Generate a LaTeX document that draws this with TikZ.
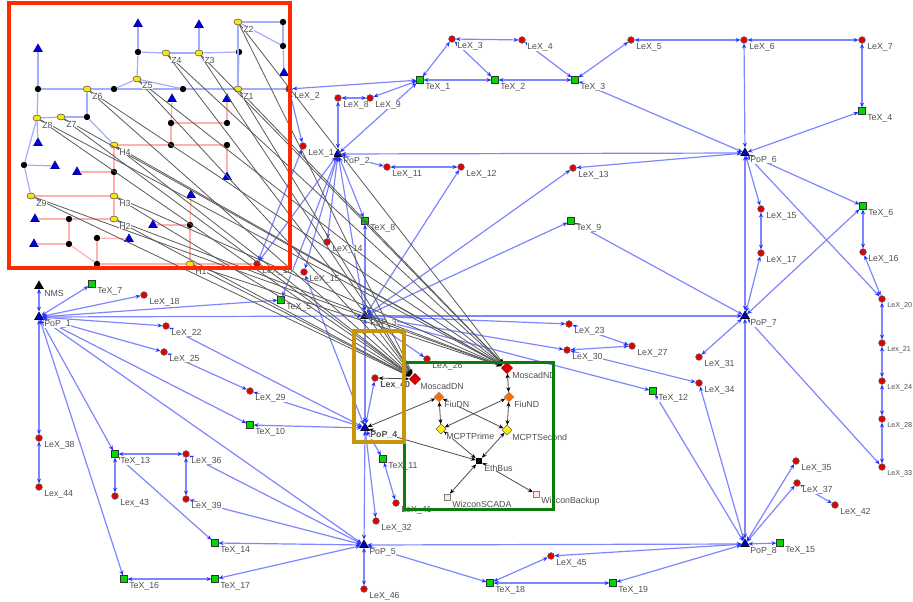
\documentclass[tikz,border=0pt]{standalone}
\usepackage{fontspec}
\setmainfont{Liberation Sans}
\usepackage{xcolor}
\usepackage{tikz}
\usetikzlibrary{
  arrows.meta,
  calc,
  shapes.geometric
}
\definecolor{linkblue}{HTML}{7E86FF}
\definecolor{tipblue}{HTML}{1E32FF}
\definecolor{fieldblue}{HTML}{A4ACFF}
\definecolor{fieldpink}{HTML}{FFB0B0}
\definecolor{tagtext}{HTML}{505050}
\definecolor{redframe}{HTML}{FF2A00}
\definecolor{greenframe}{HTML}{0B7D0B}
\definecolor{goldframe}{HTML}{C8960C}
\newcommand{\edgetag}[1]{{\fontsize{5.4}{7}\selectfont #1}}
\newcommand{\nodelist}{
  pop1/39/317/popnode/PoP\_1, pop2/338/154/popnode/PoP\_2, pop3/365/316/popnode/PoP\_3,
  pop4/365/428/popnode/\textbf{PoP\_4}, pop5/364/545/popnode/PoP\_5, pop6/745/153/popnode/PoP\_6,
  pop7/745/316/popnode/PoP\_7, pop8/745/544/popnode/PoP\_8, nms/39/286/nmsnode/NMS,
  lex1/303/146/lexnode/LeX\_1, lex2/289/89/lexnode/LeX\_2, lex3/452/39/lexnode/LeX\_3,
  lex4/522/40/lexnode/LeX\_4, lex5/631/40/lexnode/LeX\_5, lex6/744/40/lexnode/LeX\_6,
  lex7/862/40/lexnode/LeX\_7, lex8/338/98/lexnode/LeX\_8, lex9/370/98/lexnode/LeX\_9,
  lex10/257/264/lexnode/LeX\_10, lex11/387/167/lexnode/LeX\_11, lex12/461/167/lexnode/LeX\_12,
  lex13/573/168/lexnode/LeX\_13, lex14/327/242/lexnode/LeX\_14, lex15/304/272/lexnode/LeX\_15,
  lex15b/761/209/lexnode/LeX\_15, lex16/863/252/lexnode/LeX\_16, lex17/761/253/lexnode/LeX\_17,
  lex18/144/295/lexnode/LeX\_18, lex20/882/299/lexnode/\edgetag{LeX\_20}, lex21/882/343/lexnode/\edgetag{Lex\_21},
  lex22/166/326/lexnode/LeX\_22, lex23/569/324/lexnode/LeX\_23, lex24/882/381/lexnode/\edgetag{LeX\_24},
  lex25/164/352/lexnode/LeX\_25, lex26/427/359/lexnode/LeX\_26, lex27/632/346/lexnode/LeX\_27,
  lex28/882/419/lexnode/\edgetag{LeX\_28}, lex29/250/391/lexnode/LeX\_29, lex30/567/350/lexnode/LeX\_30,
  lex31/699/357/lexnode/LeX\_31, lex32/376/521/lexnode/LeX\_32, lex33/882/467/lexnode/\edgetag{LeX\_33},
  lex34/699/383/lexnode/LeX\_34, lex35/796/461/lexnode/LeX\_35, lex36/186/454/lexnode/LeX\_36,
  lex37/797/483/lexnode/LeX\_37, lex38/39/438/lexnode/LeX\_38, lex39/186/499/lexnode/LeX\_39,
  lex40/375/378/lexnode/\textbf{Lex\_40}, lex41/396/503/lexnode/LeX\_41, lex42/835/505/lexnode/LeX\_42,
  lex43/115/496/lexnode/Lex\_43, lex44/39/487/lexnode/Lex\_44, lex45/551/556/lexnode/LeX\_45,
  lex46/364/589/lexnode/LeX\_46,
  tex1/420/80/texnode/TeX\_1, tex2/495/80/texnode/TeX\_2, tex3/575/80/texnode/TeX\_3,
  tex4/862/111/texnode/TeX\_4, tex5/281/300/texnode/TeX\_5, tex6/863/206/texnode/TeX\_6,
  tex7/92/284/texnode/TeX\_7, tex8/365/221/texnode/TeX\_8, tex9/571/221/texnode/TeX\_9,
  tex10/250/425/texnode/TeX\_10, tex11/383/459/texnode/TeX\_11, tex12/653/391/texnode/TeX\_12,
  tex13/115/454/texnode/TeX\_13, tex14/215/543/texnode/TeX\_14, tex15/780/543/texnode/TeX\_15,
  tex16/124/579/texnode/TeX\_16, tex17/215/579/texnode/TeX\_17, tex18/490/583/texnode/TeX\_18,
  tex19/613/583/texnode/TeX\_19,
  moscaddn/415/379/reddia/MoscadDN, moscadnd/507/368/reddia/MoscadND, fiudn/439/397/orangedia/FiuDN,
  fiund/509/397/orangedia/FiuND, mcptprime/441/429/yellowdia/MCPTPrime, mcptsecond/507/430/yellowdia/MCPTSecond,
  ethbus/479/461/busnode/EthBus, wizconscada/447/497/hostnode/WizconSCADA, wizconbackup/536/494/hostnode/WizconBackup
}
\newcommand{\yellowlist}{
  z1/238/89/Z1, z2/238/22/Z2, z3/199/53/Z3, z4/166/53/Z4, z5/137/79/Z5, z6/87/89/Z6,
  z7/61/117/Z7, z8/37/118/Z8, z9/31/196/Z9, h1/190/264/H1, h2/114/219/H2, h3/114/196/H3, h4/114/145/H4
}
\tikzset{
  lexnode/.style={circle, draw=black!65, fill=red!90!black, inner sep=0pt, minimum size=5pt},
  texnode/.style={rectangle, draw=black!80, fill=green!85!black, inner sep=0pt, minimum size=5pt},
  popnode/.style={regular polygon, regular polygon sides=3, draw=black, fill=blue!75!black, inner sep=0pt, minimum size=7.5pt},
  nmsnode/.style={regular polygon, regular polygon sides=3, draw=black, fill=black, inner sep=0pt, minimum size=7.5pt},
  reddia/.style={diamond, draw=red!70!black, fill=red!85!black, inner sep=0pt, minimum size=8.5pt},
  orangedia/.style={diamond, draw=black!40, fill=orange!85!red, inner sep=0pt, minimum size=7.5pt},
  yellowdia/.style={diamond, draw=black!60, fill=yellow, inner sep=0pt, minimum size=7.5pt},
  busnode/.style={rectangle, fill=black, inner sep=0pt, minimum size=4.5pt},
  hostnode/.style={rectangle, draw=black!50, fill=red!10, inner sep=0pt, minimum size=4.5pt},
  fieldball/.style={ellipse, draw=black!70, fill=yellow!95!black, inner sep=0pt, minimum width=6pt, minimum height=4.5pt},
  fielddot/.style={circle, fill=black, inner sep=0pt, minimum size=4.8pt},
  fieldtip/.style={regular polygon, regular polygon sides=3, draw=blue!60!black, fill=blue!85!black, inner sep=0pt, minimum size=7.5pt},
  tag/.style={anchor=west, inner sep=0pt, fill=white, text=tagtext, font=\fontsize{6.6}{7.5}\selectfont},
  bluelink/.style={
    draw=linkblue,
    line width=.9pt,
    {Stealth[length=3.6pt,width=3pt,color=tipblue]}-{Stealth[length=3.6pt,width=3pt,color=tipblue]}},
  blacklink/.style={
    draw=black!70,
    line width=.6pt,
    {Stealth[length=3.6pt,width=3pt,color=black]}-{Stealth[length=3.6pt,width=3pt,color=black]}},
  ctrl/.style={
    draw=black!65,
    line width=.6pt,
    -{Stealth[length=3.6pt,width=3pt,color=black]},
    shorten >=1pt},
  bluefield/.style={draw=fieldblue, line width=.9pt},
  pinkfield/.style={draw=fieldpink, line width=.9pt}
}
\begin{document}
\begin{tikzpicture}[x=.75pt, y=-.75pt]
  \clip (0,0) rectangle (913,602);
  \foreach \n/\x/\y/\sty/\lab in \nodelist {
    \node[\sty] (\n) at (\x,\y) {};
  }
  \foreach \n/\x/\y/\lab in \yellowlist {
    \node[fieldball] (\n) at (\x,\y) {};
  }
  \foreach \n/\x/\y in {b1/283/22, b2/283/46, b3/138/52, b4/239/52, b5/38/89, b6/114/89, b7/183/89,
    b8/87/117, b9/171/123, b10/227/123, b11/171/145, b12/227/145, b13/24/165, b14/114/172,
    b15/69/219, b16/190/225, b17/97/238, b18/69/244, b19/97/264} {
    \node[fielddot] (\n) at (\x,\y) {};
  }
  \foreach \n/\x/\y in {t1/138/24, t2/199/25, t3/38/49, t4/284/73, t5/172/99, t6/227/99, t7/38/143,
    t8/55/166, t9/77/172, t10/227/177, t11/191/195, t12/35/219, t13/153/225, t14/129/239, t15/34/244} {
    \node[fieldtip] (\n) at (\x,\y) {};
  }
  \draw [bluefield]
    (z2) edge (b1) (b1) edge (b2) (b2) edge (t4) (z2) edge (b2) (z2) edge (z1)
    (b3) edge (t1) (b3) edge (z4) (z4) edge (z3) (z3) edge (b4) (z3) edge (t2) (b4) edge (z1)
    (b3) edge (z5) (z5) edge (b6) (z5) edge (b7) (b5) edge (t3) (b5) edge (z6) (z6) edge (b6)
    (b6) edge (b7) (b7) edge (z1) (z1) edge (lex2) (z6) edge (b8) (b8) edge (z7) (z7) edge (z8)
    (b5) edge (z8) (z8) edge (t7) (z8) edge (b13) (b13) edge (t8) (b13) edge (z9) (b8) edge (h4);
  \draw [pinkfield]
    (h4) edge (b11) (b11) edge (b12) (b11) edge (b9) (b9) edge (t5) (b9) edge (b10) (b10) edge (t6)
    (b12) edge (t10) (h4) edge (b14) (b14) edge (t9) (b14) edge (h3) (h3) edge (h2) (h3) edge (z9)
    (h2) edge (b15) (b15) edge (t12) (b15) edge (b18) (b18) edge (t15) (b18) edge (b19) (b19) edge (b17)
    (b17) edge (t14) (b19) edge (h1) (h1) edge (b16) (b16) edge (t11) (b16) edge (t13) (h1) edge (lex10);
  \draw [bluelink]
    (pop1) edge (nms) (pop1) edge (tex7) (pop1) edge (lex18) (pop1) edge (tex5) (pop1) edge (pop3)
    (pop1) edge (lex22) (lex22) edge (pop4) (pop1) edge (lex25) (lex25) edge (lex29) (lex29) edge (pop4)
    (pop1) edge (tex10) (tex10) edge (pop4) (pop1) edge (pop5) (pop1) edge (tex13) (pop1) edge (tex16)
    (pop1) edge (lex38) (lex38) edge (lex44) (tex13) edge (lex36) (tex13) edge (lex43) (lex36) edge (lex39)
    (tex13) edge (tex14) (lex36) edge (pop5) (lex39) edge (pop5) (tex14) edge (pop5) (tex16) edge (tex17)
    (tex17) edge (pop5) (pop5) edge (pop4) (pop5) edge (lex46) (pop5) edge (pop8) (pop5) edge (tex18)
    (tex18) edge (tex19) (tex18) edge (lex45) (lex45) edge (pop8) (tex19) edge (pop8)
    (pop4) edge (lex40) (pop4) edge (pop3) (pop4) edge (tex11) (tex11) edge (lex41) (pop4) edge (lex32)
    (pop3) edge (lex26) (pop3) edge (lex23) (lex23) edge (lex27) (pop3) edge (lex30) (lex30) edge (lex27)
    (pop3) edge (tex12) (lex30) edge (lex34) (pop3) edge (pop7) (pop2) edge (pop3) (tex8) edge (pop3)
    (pop2) edge (tex8) (pop2) edge (lex14) (pop2) edge (lex15) (lex15) edge (pop4) (pop2) edge (tex5)
    (pop2) edge (lex10) (lex1) edge (lex10) (lex2) edge (lex1) (lex12) edge (pop3) (lex13) edge (pop3)
    (tex9) edge (pop3) (lex13) edge (pop6) (tex9) edge (pop7) (tex3) edge (pop6) (tex3) edge (lex4)
    (tex3) edge (lex5) (tex2) edge (lex3) (tex1) edge (lex3) (lex3) edge (lex4) (tex1) edge (tex2)
    (tex2) edge (tex3) (tex1) edge (lex2) (tex1) edge (lex9) (lex8) edge (lex9) (lex8) edge (pop2)
    (tex1) edge (pop2) (pop2) edge (pop6) (pop2) edge (lex11) (lex11) edge (lex12) (lex5) edge (lex6)
    (lex6) edge (lex7) (lex6) edge (pop6) (lex7) edge (tex4) (tex4) edge (pop6) (pop6) edge (lex15b)
    (lex15b) edge (lex17) (lex17) edge (pop7) (pop6) edge (pop7) (pop6) edge (tex6) (tex6) edge (pop7)
    (tex6) edge (lex16) (lex16) edge (lex20) (pop6) edge (lex20) (lex20) edge (lex21) (lex21) edge (lex24)
    (lex24) edge (lex28) (lex28) edge (lex33) (pop7) edge (lex33) (pop7) edge (lex31) (pop7) edge (pop8)
    (pop8) edge (tex12) (pop8) edge (lex34) (pop8) edge (lex35) (pop8) edge (lex37) (lex37) edge (lex42)
    (pop8) edge (tex15);
  \draw [blacklink]
    (lex40) edge (moscaddn) (moscadnd) edge (fiund) (fiund) edge (mcptsecond) (fiund) edge (mcptprime)
    (fiudn) edge (mcptprime) (fiudn) edge (mcptsecond) (fiudn) edge (pop4) (mcptprime) edge (ethbus)
    (mcptsecond) edge (ethbus) (ethbus) edge (pop4) (ethbus) edge (wizconscada) (ethbus) edge (wizconbackup);
  \foreach \n/\x/\y/\sty/\lab in \nodelist {
    \node[tag] (\n-t) at ($(\n)+(5,7)$) {\lab};
  }
  \foreach \z in {z1,z2,z3,z4,z5,z6,z7,z8,z9,h1,h2,h3,h4} {
    \draw [ctrl] (\z) -- (moscaddn);
    \draw [ctrl] (\z) -- (moscadnd);
  }
  \foreach \n/\x/\y/\lab in \yellowlist {
    \node[tag] (\n-t) at ($(\n)+(5,7)$) {\lab};
  }
  \node[draw=redframe, line width=3pt, minimum width=210.4pt, minimum height=198.4pt, inner sep=0pt] (fieldframe) at (149.25,135.25) {};
  \node[draw=greenframe, line width=2.4pt, minimum width=111.8pt, minimum height=110.2pt, inner sep=0pt] (subframe) at (479,436) {};
  \node[draw=goldframe, line width=2.8pt, minimum width=37.5pt, minimum height=83.2pt, inner sep=0pt] (popframe) at (379,386.5) {};
\end{tikzpicture}
\end{document}
